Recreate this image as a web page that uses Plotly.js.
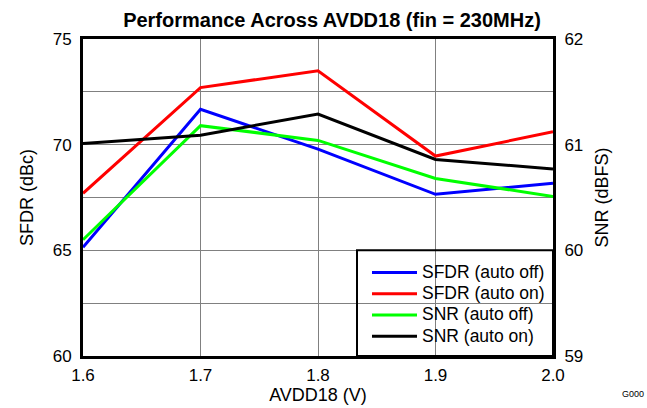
<!DOCTYPE html>
<html>
<head>
<meta charset="utf-8">
<script src="https://cdn.plot.ly/plotly-3.0.1.min.js"></script>
<style>html,body{margin:0;padding:0;background:#fff;}#chart{width:647px;height:408px;}</style>
</head>
<body>
<div id="chart"></div>
<script>
const avdd = [1.6, 1.7, 1.8, 1.9, 2.0];
const sfdrAutoOff = [65.14, 71.67, 69.79, 67.65, 68.17];
const sfdrAutoOn = [67.70, 72.70, 73.50, 69.46, 70.61];
const snrAutoOff = [60.10, 61.18, 61.04, 60.68, 60.51];
const snrAutoOn = [61.01, 61.09, 61.29, 60.86, 60.77];
const seriesNames = ['SFDR (auto off)', 'SFDR (auto on)', 'SNR (auto off)', 'SNR (auto on)'];

const font = 'Liberation Sans, Arial, sans-serif';
const legendName = n => '<span style="font-size:17.5px">' + n + '</span>';
const traces = [
  {x: avdd, y: sfdrAutoOff, name: legendName(seriesNames[0]), mode: 'lines', line: {color: '#0000ff', width: 3}, yaxis: 'y'},
  {x: avdd, y: sfdrAutoOn, name: legendName(seriesNames[1]), mode: 'lines', line: {color: '#ff0000', width: 3}, yaxis: 'y'},
  {x: avdd, y: snrAutoOff, name: legendName(seriesNames[2]), mode: 'lines', line: {color: '#00ff00', width: 3}, yaxis: 'y2'},
  {x: avdd, y: snrAutoOn, name: legendName(seriesNames[3]), mode: 'lines', line: {color: '#000000', width: 3}, yaxis: 'y2'}
];

const layout = {
  width: 647, height: 408,
  margin: {l: 83, r: 94, t: 39, b: 52},
  paper_bgcolor: '#fff', plot_bgcolor: '#fff',
  font: {family: font, size: 17, color: '#000'},
  showlegend: true,
  title: {text: '<b>Performance Across AVDD18 (fin = 230MHz)</b>', font: {family: font, size: 20, color: '#000'},
          xref: 'container', x: 332 / 647, xanchor: 'center', yref: 'container', y: 0.951, yanchor: 'middle'},
  xaxis: {range: [1.6, 2.0], dtick: 0.1, tick0: 1.6, tickformat: '.1f', showgrid: true, gridcolor: '#808080', gridwidth: 1,
          showline: true, linecolor: '#000', linewidth: 3, mirror: true, ticks: '', zeroline: false, ticklabelstandoff: 2,
          title: {text: 'AVDD18 (V)', font: {size: 18}, standoff: 2}, tickfont: {size: 17}},
  yaxis: {range: [60, 75], dtick: 5, tick0: 60, showgrid: true, gridcolor: '#808080', gridwidth: 1,
          minor: {dtick: 2.5, showgrid: true, gridcolor: '#808080', gridwidth: 1},
          showline: true, linecolor: '#000', linewidth: 3, mirror: true, ticks: '', zeroline: false, ticklabelstandoff: 5,
          title: {text: 'SFDR (dBc)', font: {size: 18}, standoff: 15}, tickfont: {size: 17}},
  yaxis2: {range: [59, 62], dtick: 1, tick0: 59, overlaying: 'y', side: 'right', showgrid: false, zeroline: false,
           showline: true, linecolor: '#000', linewidth: 3, ticks: '', ticklabelstandoff: 5,
           title: {text: 'SNR (dBFS)', font: {size: 18}, standoff: 14}, tickfont: {size: 17}},
  legend: {x: (367 - 83) / 470, y: 4 / 317, xanchor: 'left', yanchor: 'bottom', bgcolor: 'rgba(0,0,0,0)', borderwidth: 0,
           font: {size: 14}, tracegroupgap: 0, itemwidth: 45},
  shapes: [{type: 'rect', xref: 'paper', yref: 'paper', x0: (357 - 83) / 470, x1: 1, y0: 0, y1: 1 / 3,
            line: {color: '#000', width: 2}, fillcolor: 'rgba(0,0,0,0)', layer: 'above'}],
  annotations: [{text: 'G000', xref: 'paper', yref: 'paper', x: (646 - 83) / 470, y: -(394 - 356) / 317, xanchor: 'right', yanchor: 'middle',
                 showarrow: false, font: {size: 9, color: '#000'}}]
};

Plotly.newPlot('chart', traces, layout, {displayModeBar: false, staticPlot: true});
</script>
</body>
</html>
